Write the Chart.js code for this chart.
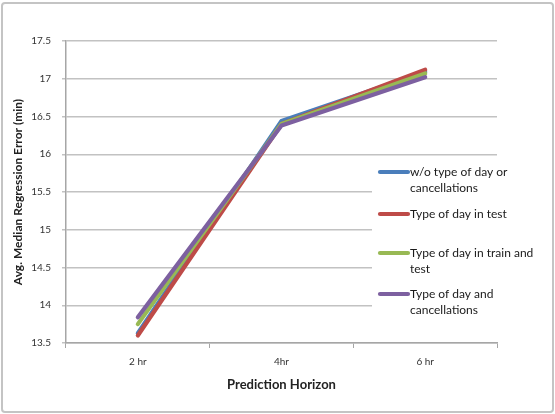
<!DOCTYPE html>
<html>
<head>
<meta charset="utf-8">
<script src="https://cdn.jsdelivr.net/npm/chart.js@4/dist/chart.umd.min.js"></script>
<style>
  html, body { margin: 0; padding: 0; background: #ffffff; }
  #wrap { width: 555px; height: 414px; }
</style>
</head>
<body>
<div id="wrap"><canvas id="chart" width="555" height="414"></canvas></div>
<script>
// Prediction horizons on the category axis
const horizons = ["2 hr", "4hr", "6 hr"];

// Average median regression error (minutes) per configuration
const woTypeOrCancel  = [13.63, 16.44, 17.09];
const typeInTest      = [13.60, 16.40, 17.12];
const typeInTrainTest = [13.75, 16.40, 17.07];
const typeAndCancel   = [13.84, 16.38, 17.02];

// Series names, split over lines the way the legend shows them
const legendText = [
  ["w/o type of day or", "cancellations"],
  ["Type of day in test"],
  ["Type of day in train and", "test"],
  ["Type of day and", "cancellations"]
];

// Value axis range
const yMin = 13.5;
const yMax = 17.5;
const yStep = 0.5;

const seriesValues = [woTypeOrCancel, typeInTest, typeInTrainTest, typeAndCancel];
const seriesColors = ["#4a7ebb", "#be4b48", "#98b954", "#7d60a0"];

const datasets = seriesValues.map((vals, i) => ({
  label: legendText[i].join(" "),
  data: vals,
  borderColor: seriesColors[i],
  backgroundColor: seriesColors[i],
  borderWidth: 4.2,
  pointRadius: 0,
  tension: 0,
  borderCapStyle: "round",
  borderJoinStyle: "round",
  order: seriesValues.length - i   // later series are painted on top
}));

// Grey frame around the whole chart
const framePlugin = {
  id: "frame",
  beforeDraw(chart) {
    const ctx = chart.ctx;
    ctx.save();
    ctx.fillStyle = "#ffffff";
    ctx.fillRect(0, 0, chart.width, chart.height);
    ctx.strokeStyle = "#c4c4c4";
    ctx.lineWidth = 2;
    ctx.beginPath();
    ctx.roundRect(2, 3, chart.width - 4, chart.height - 5, 3);
    ctx.stroke();
    ctx.restore();
  }
};

// Legend box sitting over the right part of the plot, with wrapped names
const legendPlugin = {
  id: "sideLegend",
  afterDatasetsDraw(chart) {
    const ctx = chart.ctx;
    const boxX = 372, boxY = 160, boxW = 150, boxH = 164;
    const entryCenters = [180, 214, 261, 302];
    const lineH = 16;
    ctx.save();
    ctx.fillStyle = "#ffffff";
    ctx.fillRect(boxX, boxY, boxW, boxH);
    ctx.font = "12px Lato";
    ctx.textBaseline = "middle";
    ctx.textAlign = "left";
    chart.data.datasets.forEach((ds, i) => {
      const lines = legendText[i];
      const firstY = entryCenters[i] - (lines.length - 1) * lineH / 2;
      ctx.strokeStyle = ds.borderColor;
      ctx.lineWidth = 4.2;
      ctx.lineCap = "round";
      ctx.beginPath();
      ctx.moveTo(380, firstY);
      ctx.lineTo(408, firstY);
      ctx.stroke();
      ctx.fillStyle = "#1a1a1a";
      lines.forEach((t, k) => ctx.fillText(t, 410, firstY + k * lineH));
    });
    ctx.restore();
  }
};

new Chart(document.getElementById("chart"), {
  type: "line",
  data: { labels: horizons, datasets: datasets },
  plugins: [framePlugin, legendPlugin],
  options: {
    responsive: false,
    animation: false,
    devicePixelRatio: 1,
    layout: { padding: { top: 41, right: 58, bottom: 0, left: 0 } },
    plugins: {
      legend: { display: false },
      tooltip: { enabled: false }
    },
    scales: {
      x: {
        offset: true,
        grid: {
          offset: true,
          drawOnChartArea: false,
          drawTicks: true,
          tickLength: 5,
          color: "#a6a6a6",
          lineWidth: 1
        },
        border: { display: true, color: "#a6a6a6", width: 1.5 },
        ticks: {
          font: { family: "Lato", size: 10 },
          color: "#333333",
          padding: 8,
          maxRotation: 0
        },
        title: {
          display: true,
          text: "Prediction Horizon",
          font: { family: "Lato", size: 13, weight: "bold" },
          color: "#222222",
          padding: { top: 0, bottom: 21 }
        },
        afterFit(scale) { scale.height = 71; }
      },
      y: {
        min: yMin,
        max: yMax,
        grid: {
          color: "#c2c2c2",
          lineWidth: 1.5,
          drawTicks: true,
          tickLength: 4
        },
        border: { display: true, color: "#a6a6a6", width: 1.5 },
        ticks: {
          stepSize: yStep,
          font: { family: "Lato", size: 10 },
          color: "#333333",
          padding: 11,
          callback: (v) => String(Math.round(v * 10) / 10)
        },
        title: {
          display: true,
          text: "Avg. Median Regression Error (min)",
          font: { family: "Lato", size: 12, weight: "bold" },
          color: "#222222",
          padding: { top: 11, bottom: 0 }
        },
        afterFit(scale) { scale.width = 66; }
      }
    }
  }
});
</script>
</body>
</html>
